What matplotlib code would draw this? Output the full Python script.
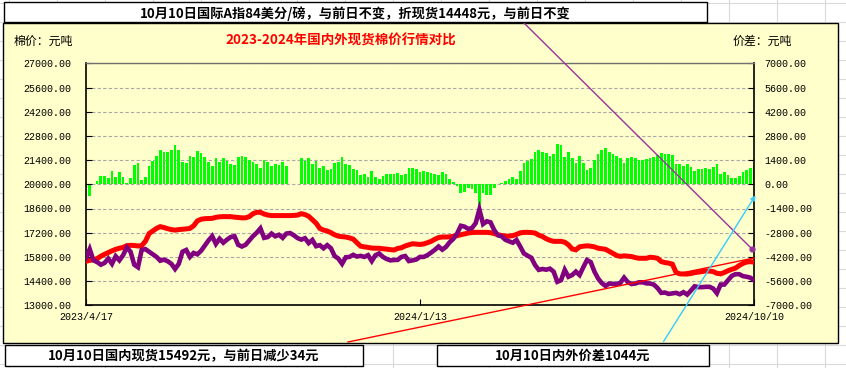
import matplotlib
matplotlib.use("Agg")
import matplotlib.pyplot as plt
import matplotlib.dates as mdates
from matplotlib.lines import Line2D
from matplotlib.patches import Rectangle, FancyArrowPatch
import numpy as np
import pandas as pd

plt.rcParams['font.family'] = ['Noto Sans CJK SC', 'DejaVu Sans']

# ---------------- data ----------------
start_date = "2023-04-17"
end_date = "2024-10-10"
holiday = ("2023-09-29", "2023-10-07")   # no price-difference bars in this span

domestic = [
    15550, 15600, 15640, 15700, 15840, 15950, 16050, 16150, 16240, 16300,
    16350, 16450, 16470, 16460, 16430, 16450, 16700, 17150, 17300, 17450,
    17550, 17500, 17430, 17380, 17350, 17380, 17400, 17420, 17450, 17600,
    17880, 17980, 18010, 18020, 18030, 18090, 18120, 18130, 18130, 18130,
    18100, 18080, 18060, 18060, 18130, 18300,
    18380, 18380, 18280, 18220, 18190, 18190, 18190, 18190, 18190, 18190,
    18200, 18220, 18300, 18250, 18150, 17950, 17750, 17450, 17350, 17300,
    17200, 17080, 17000, 16970, 16950, 16900, 16830, 16620, 16420, 16380,
    16350, 16310, 16300, 16300, 16270, 16250, 16220, 16200, 16290, 16330,
    16430, 16500, 16560, 16540, 16520,
    16550, 16620, 16700, 16820, 16920, 16950, 16950, 16960, 16990, 17030,
    17080, 17130, 17180, 17210, 17220, 17220, 17220, 17220, 17200, 17150,
    17080, 17040, 17000, 17000, 17030, 17100, 17190, 17220, 17220, 17210,
    17180, 17060, 16980, 16850, 16760, 16700, 16700, 16700, 16650, 16500,
    16260, 16210, 16380, 16420, 16440,
    16420, 16380, 16300, 16270, 16240, 16120, 16000, 15880, 15830, 15860,
    15840, 15820, 15760, 15720, 15720, 15720, 15780, 15760, 15720, 15530,
    15470, 15440, 15380, 14900, 14820, 14810, 14810, 14840, 14890, 14920,
    14950, 14990, 14980, 14950, 14850, 14820, 14900, 15000, 15080, 15150,
    15300, 15420, 15500, 15526, 15492,
]

international = [
    15740, 16250, 15600, 15500, 15350, 15450, 15700, 15400, 15840, 15600,
    15900, 16350, 16100, 15350, 15200, 16200, 16250, 16100, 15950, 15800,
    15580, 15640, 15550, 15400, 15100, 15400, 16100, 16200, 15800, 16030,
    15950, 16150, 16450, 16750, 17000, 16550, 16850, 16620, 16800, 16950,
    17000, 16500, 16400, 16500, 16750, 17000,
    17200, 17450, 16900, 16950, 17150, 16990, 17080, 16900, 17150, 17180,
    17050, 16890, 16800, 16880, 16600, 16780, 16420, 16480, 16300, 16480,
    16300, 15850, 15700, 15400, 15780, 15800, 15920, 15820, 15860, 15800,
    15900, 15560, 15900, 16000, 15800, 15680, 15600, 15620, 15630, 15800,
    15850, 15560, 15600, 15650, 15800,
    15800, 15900, 16050, 16210, 16400, 16220, 16380, 16650, 16850, 17150,
    17600, 17550, 17420, 17470, 17750, 18540, 17700, 17860, 17800, 17350,
    17050, 16990, 16790, 16700, 16620, 16780, 16400, 16000, 15870, 15750,
    15330, 15050, 15100, 15060, 15120, 14950, 14360, 14450, 15050, 14650,
    14750, 14950, 14750, 15200, 15620,
    15500, 14950, 14550, 14280, 14120, 14260, 14240, 14230, 14300, 14600,
    14340, 14230, 14260, 14330, 14330, 14270, 14260, 14200, 14000, 13720,
    13740, 13660, 13690, 13720, 13640, 13760, 13620, 13850, 14100, 14050,
    14050, 14070, 14070, 13970, 13700, 14200, 14200, 14450, 14700, 14800,
    14800, 14690, 14650, 14600, 14448,
]

xtick_dates = ["2023-04-17", "2024-01-13", "2024-10-10"]
xtick_labels = ["2023/4/17", "2024/1/13", "2024/10/10"]
left_ticks = [13000, 14400, 15800, 17200, 18600, 20000, 21400, 22800, 24200, 25600, 27000]
right_ticks = [-7000, -5600, -4200, -2800, -1400, 0, 1400, 2800, 4200, 5600, 7000]

title = "2023-2024年国内外现货棉价行情对比"
left_unit = "棉价：元吨"
right_unit = "价差：元吨"
top_note = "10月10日国际A指84美分/磅，与前日不变，折现货14448元，与前日不变"
bottom_left_note = "10月10日国内现货15492元，与前日减少34元"
bottom_right_note = "10月10日内外价差1044元"

# ---------------- figure ----------------
W, H = 846, 368
fig = plt.figure(figsize=(W / 100, H / 100), dpi=100)
fig.patch.set_facecolor('white')


def fx(px):
    return px / W


def fy(py):
    return 1 - py / H


# spreadsheet cell grid in the background
for yy in np.arange(3, H, 19):
    fig.add_artist(Line2D([0, 1], [fy(yy), fy(yy)], color='#DADADA', lw=0.8, zorder=0))
for xx in np.arange(825, 0, -48):
    fig.add_artist(Line2D([fx(xx), fx(xx)], [0, 1], color='#DADADA', lw=0.8, zorder=0))

# chart area
fig.add_artist(Rectangle((fx(3), fy(343)), fx(838) - fx(3), fy(23) - fy(343),
                         transform=fig.transFigure, facecolor='#FFFFCC',
                         edgecolor='black', lw=1.0, zorder=1))

L, R, T, B = 86, 754, 63.3, 305.3
ax = fig.add_axes([fx(L), fy(B), fx(R) - fx(L), fy(T) - fy(B)])
ax2 = ax.twinx()
ax2.set_zorder(2)
ax.set_zorder(3)
ax.patch.set_visible(False)
ax2.patch.set_visible(False)

dates = pd.date_range(start_date, end_date, periods=len(domestic))
xnum = mdates.date2num(dates.to_pydatetime())
dom = np.array(domestic, dtype=float)
intl = np.array(international, dtype=float)
diff = dom - intl

h0 = mdates.date2num(pd.Timestamp(holiday[0]).to_pydatetime())
h1 = mdates.date2num(pd.Timestamp(holiday[1]).to_pydatetime())
mask = ~((xnum >= h0) & (xnum <= h1))

ax2.bar(xnum[mask], diff[mask], width=2.2, color='#00FF00', linewidth=0, zorder=2)
ax2.set_ylim(-7000, 7000)
ax2.set_yticks(right_ticks)
ax2.set_yticklabels([f"{v:.2f}" for v in right_ticks], family='Liberation Mono', fontsize=7.2)
ax2.tick_params(axis='y', direction='in', length=4, pad=7.5, width=0.8)
ax2.set_axisbelow(True)
ax2.grid(axis='y', color='#A8A8A8', linestyle=(0, (3, 2)), lw=0.8, zorder=0)
for s in ax2.spines.values():
    s.set_visible(False)

ax.plot(xnum, dom, color='#FF0000', lw=3.6, solid_joinstyle='miter', zorder=3)
ax.plot(xnum, intl, color='#800080', lw=3.3, solid_joinstyle='miter', zorder=4)
ax.set_ylim(13000, 27000)
ax.set_yticks(left_ticks)
ax.set_yticklabels([f"{v:.2f}" for v in left_ticks], family='Liberation Mono', fontsize=7.2)
ax.tick_params(axis='y', direction='in', length=4, pad=10.5, width=0.8)

x0 = mdates.date2num(pd.Timestamp(start_date).to_pydatetime())
x1 = mdates.date2num(pd.Timestamp(end_date).to_pydatetime())
ax.set_xlim(x0, x1)
ax.set_xticks([mdates.date2num(pd.Timestamp(d).to_pydatetime()) for d in xtick_dates])
ax.set_xticklabels(xtick_labels, family='Liberation Mono', fontsize=7.2)
ax.tick_params(axis='x', direction='in', length=4, pad=5, width=0.8)
ax2.tick_params(axis='x', length=0)

for side in ['left', 'bottom', 'right']:
    ax.spines[side].set_color('black')
    ax.spines[side].set_linewidth(1.2)
ax.spines['top'].set_color('#707070')
ax.spines['top'].set_linewidth(1.0)

# titles / units
fig.text(fx(341), fy(41), title, color='#FF0000', fontsize=9.7, fontweight='bold',
         ha='center', va='center', zorder=6)
fig.text(fx(14), fy(41), left_unit, fontsize=8.6, ha='left', va='center', zorder=6)
fig.text(fx(733), fy(41), right_unit, fontsize=8.6, ha='left', va='center', zorder=6)

# annotation connectors
fig.add_artist(Line2D([fx(523), fx(752)], [fy(22), fy(249)], color='#993399', lw=1.0, zorder=7))
fig.add_artist(Line2D([fx(752)], [fy(249)], color='#993399', marker='o', markersize=3.5,
                      lw=0, zorder=7))
fig.add_artist(Line2D([fx(348), fx(754)], [fy(342), fy(258)], color='#FF0000', lw=1.0, zorder=7))
fig.add_artist(FancyArrowPatch((fx(662), fy(344)), (fx(757), fy(193)), transform=fig.transFigure,
                               arrowstyle='-|>', mutation_scale=7, color='#33CCFF', lw=1.0,
                               zorder=7))


def note_box(x0p, y0p, x1p, y1p, text, ty):
    fig.add_artist(Rectangle((fx(x0p), fy(y1p)), fx(x1p) - fx(x0p), fy(y0p) - fy(y1p),
                             transform=fig.transFigure, facecolor='white', edgecolor='black',
                             lw=1.0, zorder=8))
    fig.text(fx((x0p + x1p) / 2), fy(ty), text, fontsize=9.5, fontweight='bold',
             ha='center', va='center', zorder=9)


note_box(4, 2, 707, 22, top_note, 14)
note_box(5, 345, 363, 366, bottom_left_note, 356)
note_box(437, 345, 709, 366, bottom_right_note, 356)

fig.savefig("out.png", dpi=100)
